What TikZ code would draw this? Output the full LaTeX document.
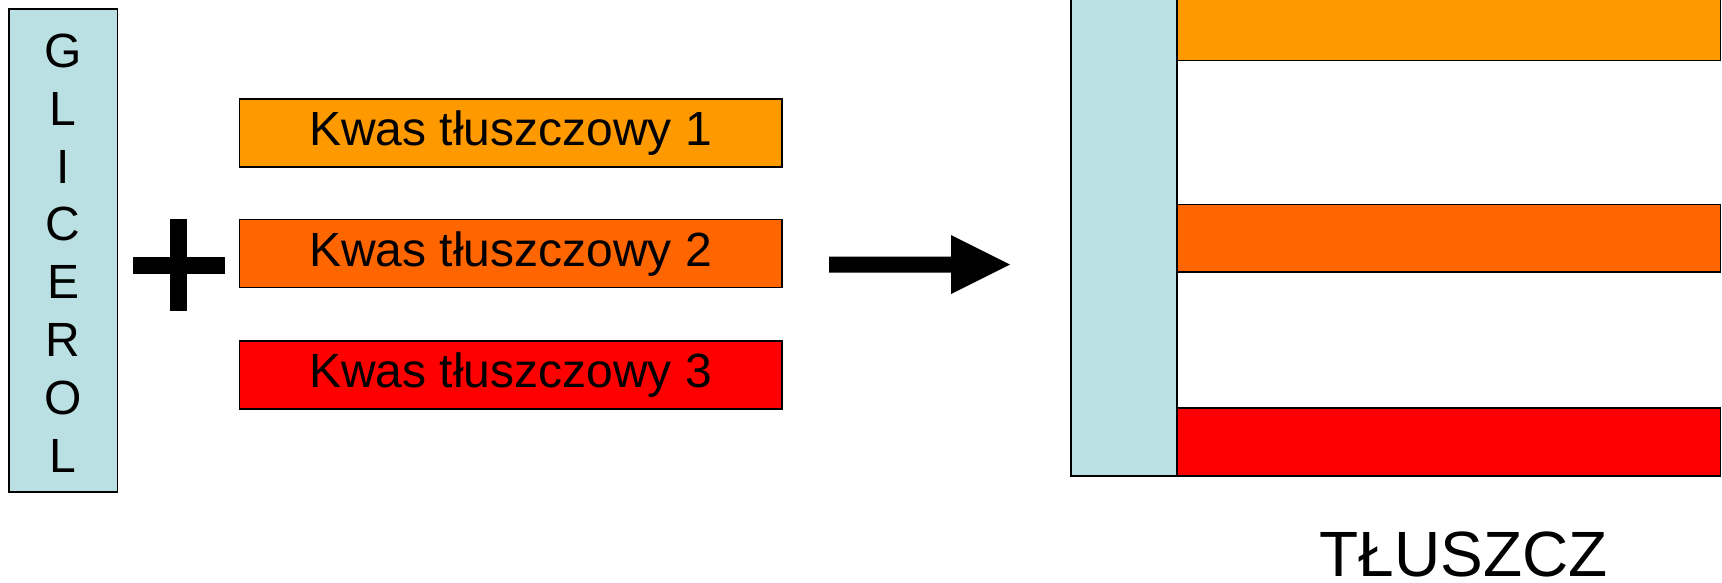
\documentclass[tikz,border=0pt]{standalone}
\usepackage{fontspec}
\setmainfont{Liberation Sans}
\definecolor{glic}{HTML}{BBE0E3}
\definecolor{kwone}{HTML}{FF9900}
\definecolor{kwtwo}{HTML}{FF6600}
\definecolor{kwthree}{HTML}{FF0000}
\begin{document}
\begin{tikzpicture}[x=1pt,y=-1pt,
  box/.style={draw=black, line width=1.5pt, rectangle, inner sep=0pt},
  kwas/.style={box, minimum width=542.4pt, minimum height=68pt, font=\fontsize{48}{58}\selectfont},
  bar/.style={box, anchor=south west, minimum width=543.5pt, minimum height=68pt}]
\useasboundingbox (0,0) rectangle (1722,582);
\node[box, fill=glic, minimum width=108.7pt, minimum height=483.2pt] (glicerol) at (63.2,250.4) {};
\node[align=center, inner sep=0pt, font=\fontsize{48}{57.8}\selectfont] (glitext) at (63.2,253) {G\\L\\I\\C\\E\\R\\O\\L};
\fill (133,257) rectangle (225,273.5);
\fill (170,218.5) rectangle (186.6,310.7);
\node[kwas, fill=kwone] (k1) at (510.6,132.9) {Kwas tłuszczowy 1};
\node[kwas, fill=kwtwo] (k2) at (510.6,253.7) {Kwas tłuszczowy 2};
\node[kwas, fill=kwthree] (k3) at (510.6,375) {Kwas tłuszczowy 3};
\fill (829,256.5) -- (951,256.5) -- (951,235) -- (1010,264.5) -- (951,294) -- (951,272.5) -- (829,272.5) -- cycle;
\begin{scope}
\clip (0,0) rectangle (1722,582);
\node[box, fill=glic, anchor=south west, minimum width=106pt, minimum height=495pt] (glic2) at (1070.4,476.5) {};
\node[bar, fill=kwone] (b1) at (1176.4,61) {};
\node[bar, fill=kwtwo, minimum height=67.5pt] (b2) at (1176.4,272.5) {};
\node[bar, fill=kwthree] (b3) at (1176.4,476.5) {};
\end{scope}
\node[anchor=base, inner sep=0pt, font=\fontsize{64}{70}\selectfont] (tl) at (1463.5,576.5) {TŁUSZCZ};
\end{tikzpicture}
\end{document}
